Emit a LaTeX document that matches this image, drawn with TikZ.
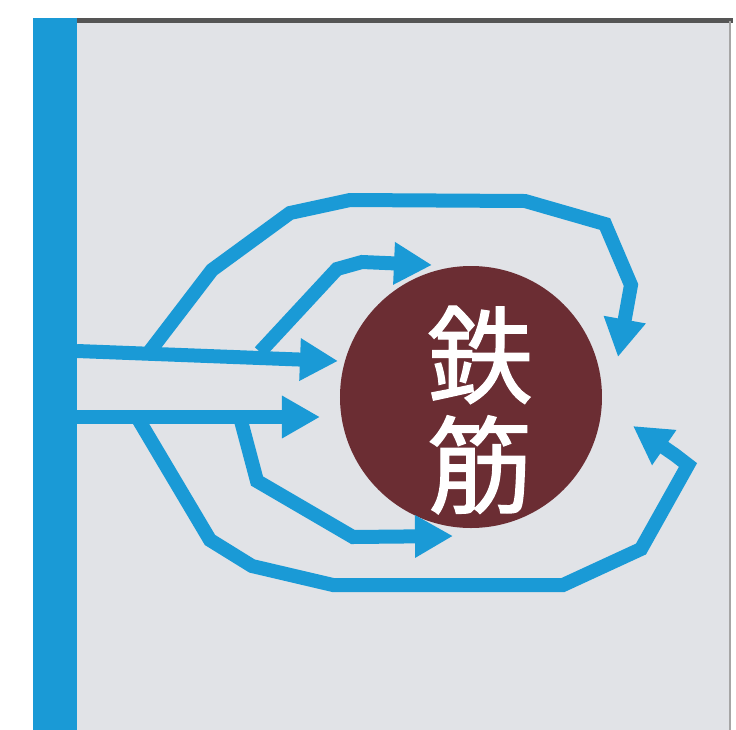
\documentclass[tikz,border=0pt]{standalone}
\usepackage{fontspec}
\newfontfamily\cjk[FakeBold=1.2]{Noto Sans CJK JP}
\usetikzlibrary{arrows.meta}
\definecolor{flowblue}{HTML}{1A9AD6}
\definecolor{rebarbrown}{HTML}{6B2D33}
\definecolor{panelgray}{HTML}{E1E3E7}
\definecolor{edgegray}{HTML}{555555}
\tikzset{
  flow/.style={draw=flowblue, line width=7pt, line join=miter,
    -{Triangle[length=19pt,width=20pt]}}
}
\begin{document}
\begin{tikzpicture}[x=0.5pt,y=-0.5pt]
\useasboundingbox (0,0) rectangle (736,730);
\fill[white] (0,0) rectangle (736,730);
% panel
\fill[panelgray] (77,21) rectangle (731,730);
\draw[edgegray, line width=2.5pt] (77,20) -- (733,20);
\draw[gray!70, line width=1pt] (730,21) -- (730,730);
% blue wall bar
\fill[flowblue] (33,18) rectangle (77,730);
% rebar
\node[circle, fill=rebarbrown, minimum size=131pt, inner sep=0pt] (rebar) at (471,397) {};
\node[text=white, font=\cjk\fontsize{53pt}{55pt}\selectfont, align=center, inner sep=0pt] (label) at (480,410) {鉄\\筋};
% coordinates
\coordinate (a0) at (77,351);
\coordinate (a1) at (338,361);
\coordinate (b0) at (77,417);
\coordinate (b1) at (320,417);
\coordinate (ua) at (150,351);
\coordinate (ub) at (260,352);
\coordinate (la) at (137,417);
\coordinate (lb) at (240,417);
\coordinate (t1) at (618,357);
\coordinate (t2) at (432,265);
\coordinate (t3) at (453,536);
\coordinate (t4) at (633,426);
% straight arrows
\draw[flow] (a0) -- (a1);
\draw[flow] (b0) -- (b1);
% upper outer
\draw[flow] (ua) -- (212,270) -- (290,213) -- (350,200) -- (525,201) -- (605,224) -- (631,285) -- (t1);
% upper inner
\draw[flow] (ub) -- (337,269) -- (362,262) -- (t2);
% lower inner
\draw[flow] (lb) -- (257,481) -- (353,537) -- (t3);
% lower outer
\draw[flow] (la) -- (210,540) -- (252,566) -- (333,585) -- (563,585) -- (641,549) -- (688,465) -- (675,455) -- (t4);
\end{tikzpicture}
\end{document}
